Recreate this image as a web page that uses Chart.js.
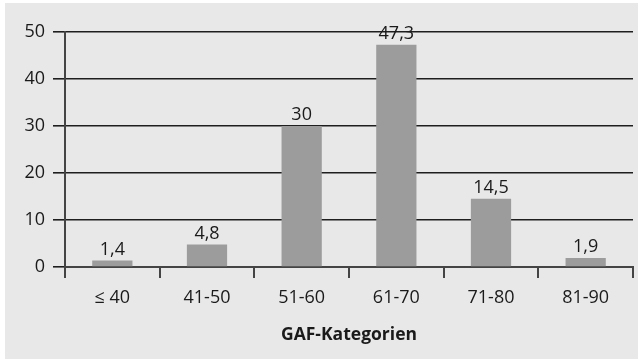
<!DOCTYPE html>
<html>
<head>
<meta charset="utf-8">
<script src="https://cdn.jsdelivr.net/npm/chart.js@4"></script>
<style>
  html, body { margin: 0; padding: 0; background: #ffffff; }
  #wrap { width: 638px; height: 359px; position: relative; }
</style>
</head>
<body>
<div id="wrap"><canvas id="c" width="638" height="359"></canvas></div>
<script>
// GAF categories and share per category (%)
const categories = ['\u2264 40', '41-50', '51-60', '61-70', '71-80', '81-90'];
const values = [1.4, 4.8, 30, 47.3, 14.5, 1.9];
const yTicks = [0, 10, 20, 30, 40, 50];
const xTitle = 'GAF-Kategorien';

const FONT = "'Open Sans', 'DejaVu Sans', sans-serif";
const TEXT = '#1a1a1a';

// grey panel behind the whole chart
const panel = {
  id: 'panel',
  beforeDraw(chart) {
    const ctx = chart.ctx;
    ctx.save();
    ctx.fillStyle = '#e8e8e8';
    ctx.fillRect(5, 3, chart.width - 5, chart.height - 3);
    ctx.restore();
  }
};

// value labels above each bar, German decimal comma
const valueLabels = {
  id: 'valueLabels',
  afterDatasetsDraw(chart) {
    const ctx = chart.ctx;
    const meta = chart.getDatasetMeta(0);
    ctx.save();
    ctx.font = '18px ' + FONT;
    ctx.fillStyle = TEXT;
    ctx.textAlign = 'center';
    ctx.textBaseline = 'bottom';
    meta.data.forEach((bar, i) => {
      const txt = String(values[i]).replace('.', ',');
      ctx.fillText(txt, bar.x, bar.y - 2);
    });
    ctx.restore();
  }
};

new Chart(document.getElementById('c'), {
  type: 'bar',
  data: {
    labels: categories,
    datasets: [{
      data: values,
      backgroundColor: '#9c9c9c',
      borderWidth: 0,
      categoryPercentage: 1,
      barPercentage: 0.425
    }]
  },
  options: {
    responsive: false,
    animation: false,
    devicePixelRatio: 1,
    layout: { padding: { left: 0, right: 5, top: 32, bottom: 0 } },
    plugins: {
      legend: { display: false },
      tooltip: { enabled: false }
    },
    scales: {
      x: {
        offset: true,
        afterFit(scale) { scale.height = 92; },
        grid: {
          offset: true,
          drawOnChartArea: false,
          drawTicks: true,
          tickLength: 11,
          color: '#444444',
          lineWidth: 2
        },
        border: { display: true, color: '#444444', width: 2 },
        ticks: {
          padding: 9,
          color: TEXT,
          font: { family: FONT, size: 18 }
        },
        title: {
          display: true,
          text: xTitle,
          color: TEXT,
          font: { family: FONT, size: 17.5, weight: 'bold' },
          padding: { top: 4, bottom: 13 }
        }
      },
      y: {
        min: 0,
        max: 50,
        afterFit(scale) { scale.width = 65; },
        afterBuildTicks(scale) { scale.ticks = yTicks.map(v => ({ value: v })); },
        grid: {
          color: '#1e1e1e',
          lineWidth: 1.6,
          tickLength: 12,
          drawTicks: true
        },
        border: { display: true, color: '#444444', width: 2 },
        ticks: {
          padding: 8,
          color: TEXT,
          font: { family: FONT, size: 18 }
        }
      }
    }
  },
  plugins: [panel, valueLabels]
});
</script>
</body>
</html>
